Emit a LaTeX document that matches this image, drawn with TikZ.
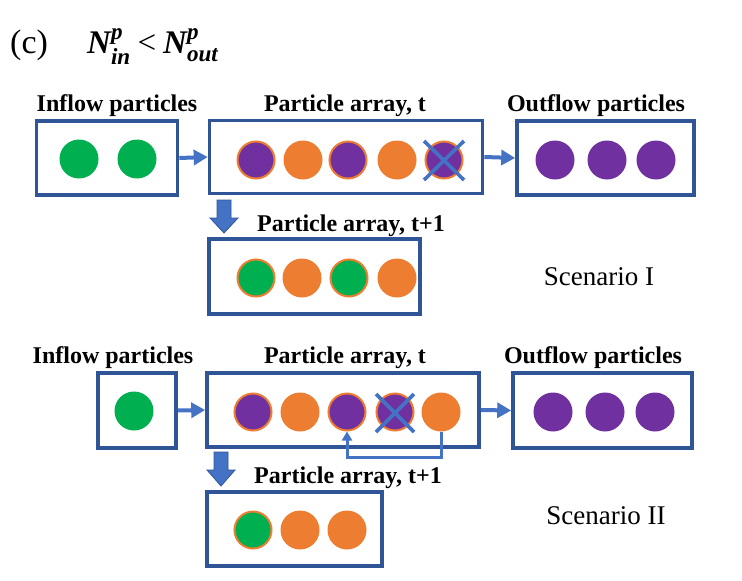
\documentclass[tikz,border=0pt]{standalone}
\usepackage{fontspec}
\setmainfont{Liberation Serif}
\usepackage{amsmath}
\usetikzlibrary{arrows.meta}
\definecolor{boxblue}{HTML}{2F5597}
\definecolor{arrblue}{HTML}{4472C4}
\definecolor{pgreen}{HTML}{00B050}
\definecolor{porange}{HTML}{ED7D31}
\definecolor{ppurple}{HTML}{7030A0}
\newcommand{\bi}[1]{\text{\bfseries\itshape #1}}
\begin{document}
\begin{tikzpicture}[x=1pt,y=-1pt,
  box/.style={draw=boxblue,line width=3.6pt,inner sep=0pt},
  ball/.style={circle,inner sep=0pt,minimum size=39pt},
  grn/.style={ball,fill=pgreen},
  org/.style={ball,fill=porange},
  pur/.style={ball,fill=ppurple},
  purO/.style={ball,fill=ppurple,draw=porange,line width=2pt,minimum size=37pt},
  grnO/.style={ball,fill=pgreen,draw=porange,line width=2pt,minimum size=37pt},
  lbl/.style={font=\fontsize{24}{28}\selectfont\bfseries,anchor=base,inner sep=0pt},
  scen/.style={font=\fontsize{27}{30}\selectfont,anchor=base,inner sep=0pt},
  conn/.style={draw=arrblue,line width=4pt,-{Triangle[length=14pt,width=15pt]}},
  back/.style={draw=arrblue,line width=3pt,-{Triangle[length=9pt,width=10pt]}},
  xline/.style={draw=arrblue,line width=3.6pt},
  blockarr/.style={fill=arrblue,draw=boxblue,line width=0.8pt}
]
\useasboundingbox (0,0) rectangle (742,581);

% title
\node[anchor=base west,inner sep=0pt] (tc) at (10,53) {\fontsize{34}{40}\selectfont (c)};
\node[anchor=base west,inner sep=0pt] (teq) at (87,53) {\fontsize{33}{36}\selectfont $\bi{N}^{\bi{p}}_{\bi{in}} \mathrel{\text{<}} \bi{N}^{\bi{p}}_{\bi{out}}$};

% ---------- Scenario I ----------
\node[box,minimum width=141pt,minimum height=74pt] (in1) at (107,158) {};
\node[box,minimum width=273pt,minimum height=73pt] (arr1) at (346,157) {};
\node[box,minimum width=177pt,minimum height=74pt] (out1) at (605.5,158) {};
\node[box,minimum width=211pt,minimum height=75pt] (nxt1) at (314.5,276.5) {};

\node[lbl] (lin1) at (117,111) {Inflow particles};
\node[lbl] (larr1) at (345,111) {Particle array, t};
\node[lbl] (lout1) at (596,111) {Outflow particles};
\node[lbl] (lnxt1) at (351,231) {Particle array, t+1};
\node[scen] (sc1) at (599,285) {Scenario I};

\node[grn] (i1a) at (79,159) {};
\node[grn] (i1b) at (137,159) {};

\node[purO] (a1) at (256,160) {};
\node[org]  (a2) at (303,160) {};
\node[purO] (a3) at (348,160) {};
\node[org]  (a4) at (397,160) {};
\node[purO] (a5) at (444,160) {};
\draw[xline] ([shift={(-20,-19)}]a5.center) -- ([shift={(20,20)}]a5.center);
\draw[xline] ([shift={(20,-19)}]a5.center) -- ([shift={(-20,20)}]a5.center);

\node[pur] (o1a) at (555,160) {};
\node[pur] (o1b) at (607,160) {};
\node[pur] (o1c) at (656,160) {};

\node[grnO] (n1a) at (256,278) {};
\node[org]  (n1b) at (302,278) {};
\node[grnO] (n1c) at (349,278) {};
\node[org]  (n1d) at (397,278) {};

\draw[conn] (in1.east) -- (arr1.west);
\draw[conn] (arr1.east) -- (out1.west);
\draw[blockarr] (217,200) -- (231,200) -- (231,218) -- (238,218) -- (224,233) -- (210,218) -- (217,218) -- cycle;

% ---------- Scenario II ----------
\node[box,minimum width=78pt,minimum height=75pt] (in2) at (137,410.5) {};
\node[box,minimum width=272pt,minimum height=74pt] (arr2) at (343,410) {};
\node[box,minimum width=179pt,minimum height=75pt] (out2) at (602.5,410.5) {};
\node[box,minimum width=175pt,minimum height=74pt] (nxt2) at (294.5,529) {};

\node[lbl] (lin2) at (113,363) {Inflow particles};
\node[lbl] (larr2) at (345,363) {Particle array, t};
\node[lbl] (lout2) at (593,363) {Outflow particles};
\node[lbl] (lnxt2) at (348,483) {Particle array, t+1};
\node[scen] (sc2) at (606,524) {Scenario II};

\node[grn] (i2a) at (134,411) {};

\node[purO] (b1) at (253,412) {};
\node[org]  (b2) at (300,412) {};
\node[purO] (b3) at (347,412) {};
\node[purO] (b4) at (395,412) {};
\node[org]  (b5) at (441,412) {};
\draw[xline] ([shift={(-19,-18)}]b4.center) -- ([shift={(19,20)}]b4.center);
\draw[xline] ([shift={(19,-18)}]b4.center) -- ([shift={(-19,20)}]b4.center);

\node[pur] (o2a) at (553,412) {};
\node[pur] (o2b) at (605,412) {};
\node[pur] (o2c) at (655,412) {};

\node[grnO] (n2a) at (253,530) {};
\node[org]  (n2b) at (300,530) {};
\node[org]  (n2c) at (347,530) {};

\draw[conn] (in2.east) -- (arr2.west);
\draw[conn] (arr2.east) -- (out2.west);
\draw[back] (b5.south) -- ++(0,26) -| (b3.south);
\draw[blockarr] (214,452) -- (228,452) -- (228,470) -- (235,470) -- (221,486) -- (207,470) -- (214,470) -- cycle;
\end{tikzpicture}
\end{document}
